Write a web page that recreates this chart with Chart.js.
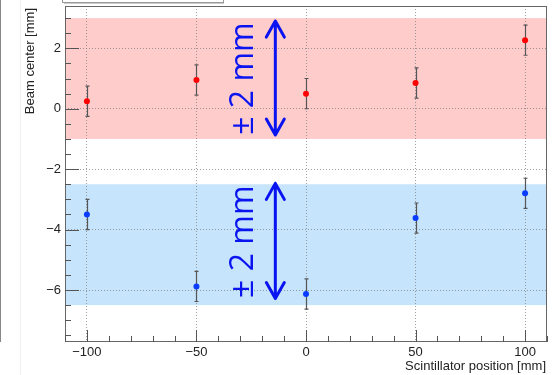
<!DOCTYPE html>
<html>
<head>
<meta charset="utf-8">
<script src="https://cdn.jsdelivr.net/npm/chart.js@4.4.1/dist/chart.umd.min.js"></script>
<style>
  body { margin: 0; background: #fff; }
  #wrap { width: 553px; height: 375px; }
</style>
</head>
<body>
<div id="wrap"><canvas id="beamChart" width="553" height="375"></canvas></div>
<script>
// scintillator positions and fitted beam centres (mm)
const positions = [-100, -50, 0, 50, 100];
const redCenter = [0.25, 0.95, 0.5, 0.85, 2.27];
const redError = [0.5, 0.5, 0.5, 0.5, 0.5];
const blueCenter = [-3.5, -5.88, -6.13, -3.62, -2.8];
const blueError = [0.5, 0.5, 0.5, 0.5, 0.5];

// +-2 mm bands
const bandLow = [-1, -6.5];
const bandHigh = [3, -2.5];
const bandColors = ["#ffcccc", "#c6e4fb"];

// annotation arrows / text
const arrowX = -14;
const arrowLow = [-0.87, -6.28];
const arrowHigh = [2.9, -2.47];
const noteText = "\u00b1 2 mm";
const noteX = -24;
const noteY = [1.0, -4.4];

const xTicks = [-100, -50, 0, 50, 100];
const yTicks = [-6, -4, -2, 0, 2];

function fmt(v) {
  return v < 0 ? "\u2212" + Math.abs(v) : String(v);
}

const rootStyle = {
  id: "rootStyle",
  beforeDraw(chart) {
    const ctx = chart.ctx;
    const a = chart.chartArea;
    const y = chart.scales.y;
    ctx.save();
    // slide decorations on the left
    ctx.strokeStyle = "#888";
    ctx.lineWidth = 1;
    ctx.beginPath(); ctx.moveTo(0.5, 0); ctx.lineTo(0.5, 342); ctx.stroke();
    ctx.strokeStyle = "#f0f0f0";
    ctx.beginPath(); ctx.moveTo(20.5, 0); ctx.lineTo(20.5, 375); ctx.stroke();
    // stat box peeking from the top
    ctx.strokeStyle = "#999";
    ctx.strokeRect(62.5, -10, 161, 12.5);
    ctx.strokeStyle = "#ccc";
    ctx.beginPath(); ctx.moveTo(64, 3.5); ctx.lineTo(224, 3.5); ctx.stroke();
    // bands
    for (let i = 0; i < bandLow.length; i++) {
      const top = y.getPixelForValue(bandHigh[i]);
      const bot = y.getPixelForValue(bandLow[i]);
      ctx.fillStyle = bandColors[i];
      ctx.fillRect(a.left, top, a.right - a.left, bot - top);
    }
    ctx.restore();
  },
  beforeDatasetsDraw(chart) {
    const ctx = chart.ctx;
    const x = chart.scales.x;
    const y = chart.scales.y;
    const sets = [[redCenter, redError], [blueCenter, blueError]];
    ctx.save();
    ctx.strokeStyle = "#555";
    ctx.lineWidth = 1.2;
    sets.forEach(([c, e]) => {
      positions.forEach((p, i) => {
        const px = Math.round(x.getPixelForValue(p)) + 0.5;
        const t = y.getPixelForValue(c[i] + e[i]);
        const b = y.getPixelForValue(c[i] - e[i]);
        ctx.beginPath();
        ctx.moveTo(px, t); ctx.lineTo(px, b);
        ctx.moveTo(px - 2, t); ctx.lineTo(px + 2, t);
        ctx.moveTo(px - 2, b); ctx.lineTo(px + 2, b);
        ctx.stroke();
      });
    });
    ctx.restore();
  },
  afterDraw(chart) {
    const ctx = chart.ctx;
    const a = chart.chartArea;
    const x = chart.scales.x;
    const y = chart.scales.y;
    ctx.save();
    // frame
    ctx.strokeStyle = "#666";
    ctx.lineWidth = 1;
    ctx.strokeRect(a.left + 0.5, a.top + 0.5, a.right - a.left - 1, a.bottom - a.top - 1);
    // inner ticks
    ctx.strokeStyle = "#555";
    ctx.beginPath();
    for (let v = -7.5; v <= 3.4; v += 0.5) {
      const py = Math.round(y.getPixelForValue(v)) + 0.5;
      const len = Number.isInteger(v) && v % 2 === 0 ? 14 : 6;
      ctx.moveTo(a.left, py); ctx.lineTo(a.left + len, py);
    }
    for (let v = -110; v <= 110; v += 10) {
      const px = Math.round(x.getPixelForValue(v)) + 0.5;
      const len = v % 50 === 0 ? 12 : 6;
      ctx.moveTo(px, a.bottom); ctx.lineTo(px, a.bottom - len);
    }
    ctx.stroke();
    // axis titles
    ctx.fillStyle = "#222";
    ctx.font = "13px 'Liberation Sans', Arial, sans-serif";
    ctx.textAlign = "right";
    ctx.textBaseline = "middle";
    ctx.fillText("Scintillator position [mm]", 546, 366);
    ctx.save();
    ctx.translate(30, 8);
    ctx.rotate(-Math.PI / 2);
    ctx.fillText("Beam center [mm]", 0, 0);
    ctx.restore();
    // arrows and notes
    ctx.strokeStyle = "#0a14f0";
    ctx.fillStyle = "#0a14f0";
    ctx.lineWidth = 3;
    ctx.lineCap = "round";
    ctx.lineJoin = "round";
    const ax = x.getPixelForValue(arrowX);
    for (let i = 0; i < arrowLow.length; i++) {
      const t = y.getPixelForValue(arrowHigh[i]);
      const b = y.getPixelForValue(arrowLow[i]);
      ctx.beginPath();
      ctx.moveTo(ax, t); ctx.lineTo(ax, b);
      ctx.moveTo(ax - 9, t + 16); ctx.lineTo(ax, t); ctx.lineTo(ax + 9, t + 16);
      ctx.moveTo(ax - 9, b - 16); ctx.lineTo(ax, b); ctx.lineTo(ax + 9, b - 16);
      ctx.stroke();
      ctx.save();
      ctx.translate(x.getPixelForValue(noteX), y.getPixelForValue(noteY[i]));
      ctx.rotate(-Math.PI / 2);
      ctx.font = "32px 'Open Sans', sans-serif";
      ctx.textAlign = "center";
      ctx.textBaseline = "alphabetic";
      ctx.fillText(noteText, 0, 0);
      ctx.restore();
    }
    ctx.restore();
  }
};

const tickFont = { family: "'Liberation Sans', Arial, sans-serif", size: 13 };

const config = {
  type: "scatter",
  data: {
    datasets: [
      {
        label: "upper",
        data: positions.map((p, i) => ({ x: p, y: redCenter[i] })),
        pointRadius: 3,
        pointBorderWidth: 0,
        pointBackgroundColor: "#ff0000",
      },
      {
        label: "lower",
        data: positions.map((p, i) => ({ x: p, y: blueCenter[i] })),
        pointRadius: 3,
        pointBorderWidth: 0,
        pointBackgroundColor: "#0a3cff",
      },
    ],
  },
  options: {
    responsive: false,
    animation: false,
    layout: { padding: { top: 6, right: 6, bottom: 0, left: 0 } },
    plugins: { legend: { display: false }, tooltip: { enabled: false } },
    scales: {
      x: {
        type: "linear",
        min: -110,
        max: 110,
        afterBuildTicks: s => { s.ticks = xTicks.map(v => ({ value: v })); },
        afterFit: s => { s.height = 33; s.paddingLeft = 0; s.paddingRight = 0; },
        ticks: { font: tickFont, color: "#222", padding: 3, maxRotation: 0, callback: fmt },
        grid: { color: "rgba(120,120,120,0.7)", drawTicks: false, lineWidth: 1 },
        border: { display: false, dash: [1, 2] },
      },
      y: {
        type: "linear",
        min: -7.72,
        max: 3.4,
        afterBuildTicks: s => { s.ticks = yTicks.map(v => ({ value: v })); },
        afterFit: s => { s.width = 65; s.paddingTop = 0; s.paddingBottom = 0; },
        ticks: { font: tickFont, color: "#222", padding: 4, callback: fmt },
        grid: { color: "rgba(120,120,120,0.7)", drawTicks: false, lineWidth: 1 },
        border: { display: false, dash: [1, 2] },
      },
    },
  },
  plugins: [rootStyle],
};

const beamChart = new Chart(document.getElementById("beamChart"), config);
</script>
</body>
</html>
